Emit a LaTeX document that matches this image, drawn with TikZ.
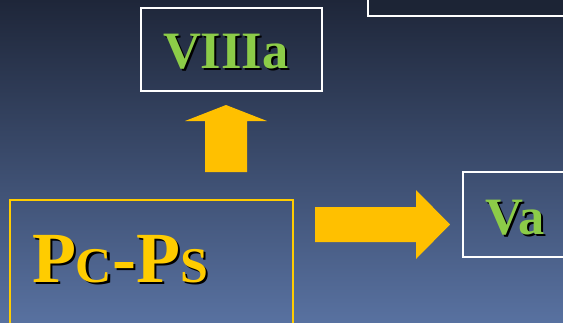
\documentclass[tikz,border=0pt]{standalone}
\usepackage{fontspec}
\setmainfont{Liberation Serif}
\definecolor{bgtop}{RGB}{30,38,57}
\definecolor{bgbot}{RGB}{88,113,160}
\definecolor{gold}{RGB}{255,204,0}
\definecolor{arrowgold}{RGB}{255,192,0}
\definecolor{leaf}{RGB}{140,204,72}
\definecolor{darkbox}{RGB}{28,36,53}
\tikzset{
  frame/.style={draw, line width=2pt, inner sep=0pt, outer sep=0pt, anchor=north west},
  txt/.style={inner sep=0pt, outer sep=0pt, anchor=base west, font=\bfseries},
  shadowtxt/.style={txt, text=black},
  blockarrow/.style={fill=arrowgold, draw=none}
}
\newcommand{\pcps}{\fontsize{72}{72}\selectfont P{\fontsize{50}{50}\selectfont C}-P{\fontsize{50}{50}\selectfont S}}
\newcommand{\bigtxt}[1]{\fontsize{52.5}{52.5}\selectfont #1}
\begin{document}
\begin{tikzpicture}[x=1pt,y=-1pt]
\useasboundingbox (0,0) rectangle (563,322);
\clip (0,0) rectangle (563,322);
\shade[top color=bgtop, bottom color=bgbot] (0,0) rectangle (563,322);
% boxes
\node[frame, draw=white, fill=darkbox, minimum width=240pt, minimum height=80pt] (topbox) at (368,-64) {};
\node[frame, draw=white, minimum width=181pt, minimum height=83pt] (boxviii) at (141,8) {};
\node[frame, draw=white, minimum width=140pt, minimum height=85pt] (boxva) at (463,172) {};
\node[frame, draw=gold, minimum width=283pt, minimum height=140pt] (boxpc) at (10,200) {};
% texts with shadows
\node[shadowtxt] (pcshadow) at (34.5,284.5) {\pcps};
\node[txt, text=gold] (pctext) at (32,282) {\pcps};
\node[shadowtxt] (viiishadow) at (165,70) {\bigtxt{VIIIa}};
\node[txt, text=leaf] (viiitext) at (163,68) {\bigtxt{VIIIa}};
\node[shadowtxt] (vashadow) at (487,236) {\bigtxt{Va}};
\node[txt, text=leaf] (vatext) at (485,234) {\bigtxt{Va}};
% block arrows
\fill[blockarrow] (205,172) -- (205,121) -- (185,121) -- (226,105) -- (267,121) -- (247,121) -- (247,172) -- cycle;
\fill[blockarrow] (315,207) -- (416,207) -- (416,190) -- (450,224.5) -- (416,259) -- (416,242) -- (315,242) -- cycle;
\end{tikzpicture}
\end{document}
